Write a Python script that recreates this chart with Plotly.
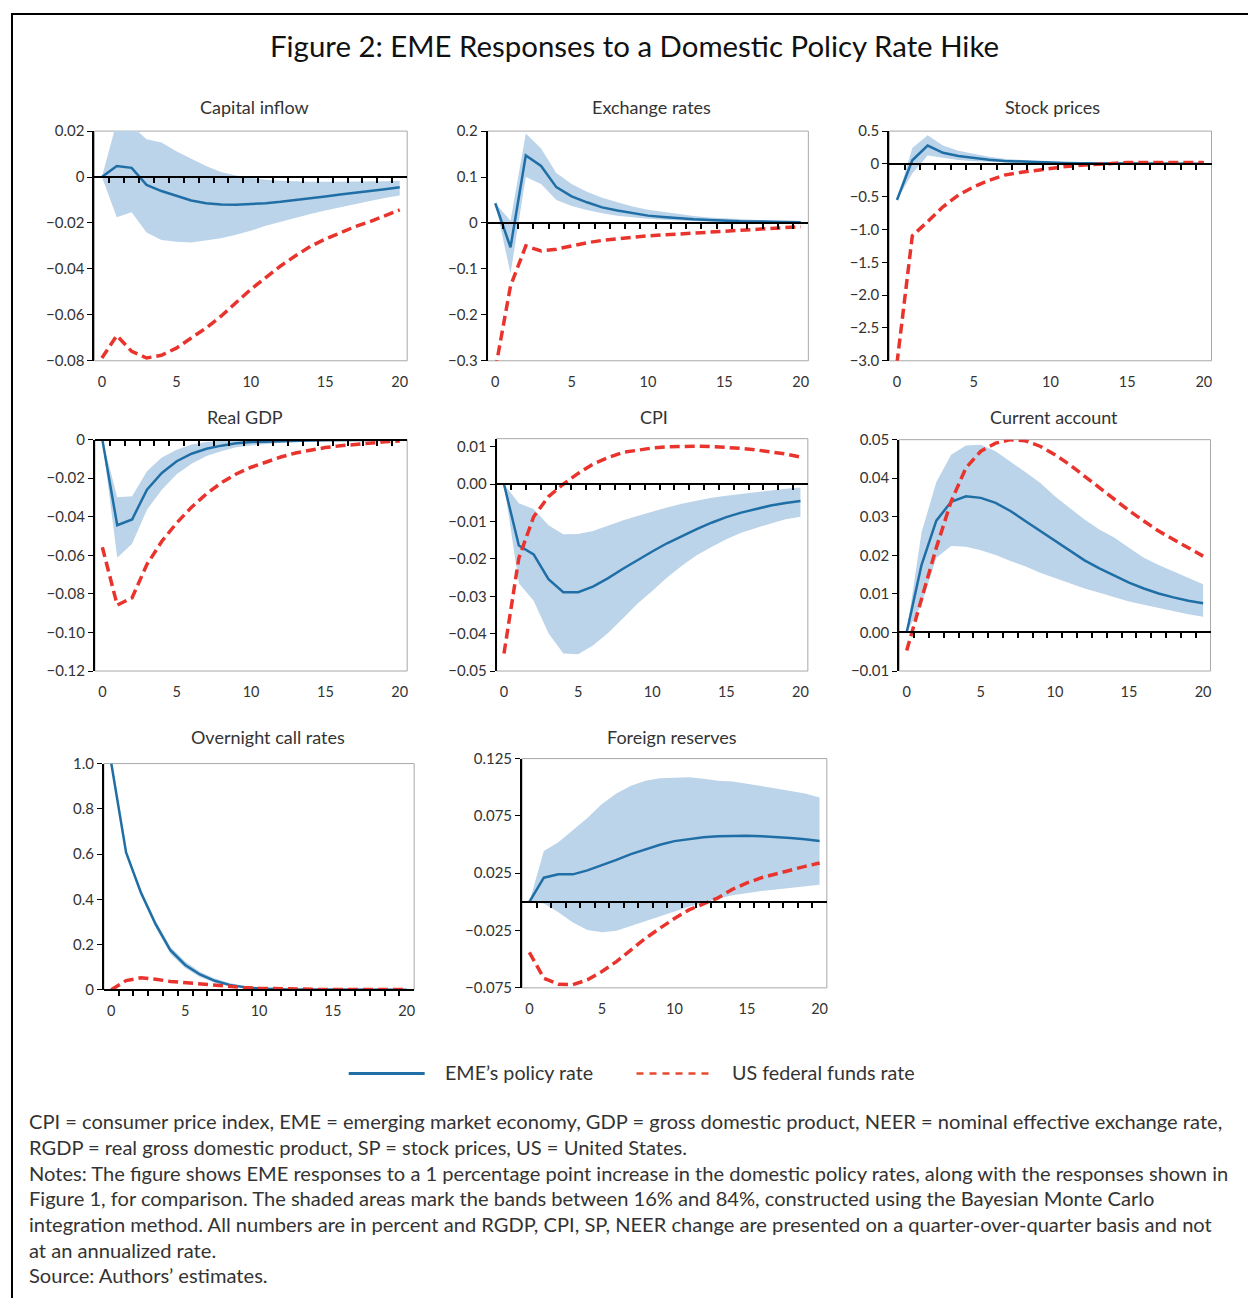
import plotly.graph_objects as go

W, H = 1248, 1298
t = list(range(21))

# ---------------- data ----------------
ci_eme = [0, 0.0048, 0.0040, -0.0034, -0.0061, -0.0083, -0.0102, -0.0114, -0.0120, -0.0121, -0.0118,
          -0.0114, -0.0108, -0.0101, -0.0093, -0.0085, -0.0076, -0.0069, -0.0061, -0.0053, -0.0044]
ci_hi = [0, 0.024, 0.0223, 0.0165, 0.0150, 0.0112, 0.0080, 0.0048, 0.0022, 0.0007, -0.0004,
         -0.0012, -0.0016, -0.0019, -0.0020, -0.0021, -0.0021, -0.0020, -0.0019, -0.0018, -0.0016]
ci_lo = [0, -0.0175, -0.0153, -0.0241, -0.0274, -0.0282, -0.0285, -0.0277, -0.0266, -0.0251, -0.0234,
         -0.0212, -0.0194, -0.0177, -0.0161, -0.0146, -0.0131, -0.0117, -0.0104, -0.0091, -0.0080]
ci_us = [-0.0788, -0.0690, -0.0759, -0.0788, -0.0776, -0.0745, -0.0701, -0.0657, -0.0606, -0.0545, -0.0489,
         -0.0438, -0.0387, -0.0343, -0.0302, -0.0270, -0.0241, -0.0216, -0.0194, -0.0168, -0.0143]

er_eme = [0.043, -0.053, 0.147, 0.124, 0.078, 0.058, 0.045, 0.034, 0.027, 0.021, 0.016,
          0.013, 0.010, 0.008, 0.0066, 0.005, 0.004, 0.0035, 0.003, 0.002, 0.0015]
er_hi = [0.043, 0.005, 0.195, 0.162, 0.109, 0.085, 0.068, 0.055, 0.045, 0.036, 0.029,
         0.024, 0.019, 0.015, 0.012, 0.010, 0.008, 0.006, 0.005, 0.004, 0.003]
er_lo = [0.043, -0.110, 0.100, 0.085, 0.050, 0.037, 0.028, 0.021, 0.016, 0.012, 0.009,
         0.007, 0.005, 0.004, 0.003, 0.002, 0.0015, 0.001, 0.001, 0.0005, 0.0]
er_us = [-0.32, -0.137, -0.050, -0.061, -0.057, -0.050, -0.043, -0.038, -0.034, -0.031, -0.028,
         -0.026, -0.024, -0.022, -0.020, -0.018, -0.016, -0.014, -0.012, -0.010, -0.008]

sp_eme = [-0.55, 0.055, 0.28, 0.17, 0.12, 0.09, 0.065, 0.045, 0.035, 0.025, 0.02,
          0.015, 0.012, 0.01, 0.008, 0.006, 0.005, 0.004, 0.003, 0.002, 0.001]
sp_hi = [-0.55, 0.243, 0.436, 0.28, 0.20, 0.15, 0.11, 0.08, 0.06, 0.045, 0.035,
         0.028, 0.022, 0.018, 0.015, 0.012, 0.010, 0.008, 0.007, 0.006, 0.005]
sp_lo = [-0.55, -0.147, 0.13, 0.09, 0.06, 0.04, 0.03, 0.02, 0.012, 0.008, 0.006,
         0.004, 0.003, 0.002, 0.001, 0.0, 0.0, 0.0, 0.0, 0.0, 0.0]
sp_us = [-3.04, -1.095, -0.88, -0.654, -0.476, -0.35, -0.25, -0.17, -0.13, -0.096, -0.07,
         -0.04, -0.02, -0.005, 0.01, 0.02, 0.02, 0.02, 0.02, 0.02, 0.02]

gdp_eme = [0, -0.0444, -0.0414, -0.0259, -0.0173, -0.0112, -0.0073, -0.0047, -0.0031, -0.0019, -0.0012,
           -0.0009, -0.0007, -0.0005, -0.0004, -0.0003, -0.0003, -0.0002, -0.0002, -0.0001, -0.0001]
gdp_hi = [0, -0.0299, -0.0293, -0.0164, -0.0092, -0.0052, -0.0025, -0.0012, -0.0006, -0.0003, -0.0002,
          -0.0001, -0.0001, 0, 0, 0, 0, 0, 0, 0, 0]
gdp_lo = [0, -0.0613, -0.0540, -0.0363, -0.0260, -0.0180, -0.0125, -0.0085, -0.0060, -0.0040, -0.0030,
          -0.0022, -0.0016, -0.0012, -0.0009, -0.0007, -0.0006, -0.0005, -0.0004, -0.0004, -0.0003]
gdp_us = [-0.0558, -0.0858, -0.0820, -0.0647, -0.0527, -0.0432, -0.0350, -0.0281, -0.0224, -0.0178, -0.0143,
          -0.0116, -0.0090, -0.0069, -0.0055, -0.0041, -0.0032, -0.0024, -0.0017, -0.0011, -0.0007]

cpi_eme = [0, -0.0164, -0.0188, -0.0254, -0.0289, -0.0289, -0.0274, -0.0252, -0.0227, -0.0203, -0.0180,
           -0.0158, -0.0138, -0.0120, -0.0103, -0.0088, -0.0076, -0.0066, -0.0057, -0.0050, -0.0045]
cpi_hi = [0, -0.0051, -0.0066, -0.0110, -0.0134, -0.0133, -0.0125, -0.0110, -0.0097, -0.0085, -0.0073,
          -0.0062, -0.0052, -0.0043, -0.0036, -0.0031, -0.0026, -0.0021, -0.0016, -0.0012, -0.0009]
cpi_lo = [0, -0.0265, -0.0312, -0.0399, -0.0453, -0.0455, -0.0432, -0.0399, -0.0360, -0.0320, -0.0286,
          -0.0250, -0.0218, -0.0190, -0.0168, -0.0147, -0.0130, -0.0117, -0.0105, -0.0094, -0.0087]
cpi_us = [-0.0453, -0.0198, -0.0087, -0.0033, 0.0, 0.0029, 0.0054, 0.0071, 0.0085, 0.0092, 0.0097,
          0.0100, 0.0102, 0.0102, 0.0101, 0.0099, 0.0096, 0.0092, 0.0087, 0.0081, 0.0073]

ca_eme = [0, 0.0175, 0.0290, 0.0339, 0.0353, 0.0349, 0.0336, 0.0315, 0.0289, 0.0263, 0.0237,
          0.0211, 0.0187, 0.0166, 0.0147, 0.0129, 0.0114, 0.0101, 0.0091, 0.0082, 0.0076]
ca_hi = [0, 0.0259, 0.0390, 0.0461, 0.0485, 0.0487, 0.0470, 0.0444, 0.0416, 0.0388, 0.0353,
         0.0323, 0.0293, 0.0267, 0.0246, 0.0220, 0.0194, 0.0175, 0.0158, 0.0141, 0.0125]
ca_lo = [0, 0.0073, 0.0194, 0.0224, 0.0222, 0.0213, 0.0201, 0.0185, 0.0172, 0.0155, 0.0141,
         0.0127, 0.0114, 0.0103, 0.0091, 0.0080, 0.0072, 0.0063, 0.0056, 0.0047, 0.0041]
ca_us = [-0.0047, 0.0090, 0.0220, 0.0340, 0.0427, 0.0470, 0.0491, 0.0500, 0.0497, 0.0483, 0.0461,
         0.0435, 0.0405, 0.0375, 0.0345, 0.0316, 0.0289, 0.0263, 0.0241, 0.0220, 0.0198]

ocr_eme = [1.0, 0.607, 0.43, 0.29, 0.175, 0.11, 0.068, 0.04, 0.022, 0.012, 0.006,
           0.003, 0.0015, 0.001, 0.0005, 0, 0, 0, 0, 0, 0]
ocr_hi = [1.0, 0.615, 0.445, 0.305, 0.19, 0.125, 0.08, 0.05, 0.03, 0.017, 0.009,
          0.005, 0.003, 0.002, 0.001, 0.001, 0.001, 0.001, 0.001, 0.001, 0.001]
ocr_lo = [1.0, 0.600, 0.420, 0.275, 0.160, 0.097, 0.057, 0.031, 0.015, 0.007, 0.003,
          0.001, 0, 0, 0, 0, 0, 0, 0, 0, 0]
ocr_us = [0, 0.041, 0.053, 0.047, 0.037, 0.031, 0.026, 0.019, 0.013, 0.010, 0.007,
          0.005, 0.004, 0.003, 0.002, 0.002, 0.001, 0.001, 0.001, 0.001, 0.001]

fr_eme = [0, 0.0211, 0.0240, 0.0240, 0.0275, 0.0318, 0.0367, 0.0417, 0.0460, 0.0498, 0.0530,
          0.0550, 0.0564, 0.0573, 0.0576, 0.0576, 0.0573, 0.0567, 0.0558, 0.0547, 0.0532]
fr_hi = [0, 0.0443, 0.0520, 0.0622, 0.0732, 0.0854, 0.0946, 0.1013, 0.1056, 0.1079, 0.1085,
         0.1088, 0.1075, 0.1056, 0.1050, 0.1033, 0.1010, 0.0990, 0.0970, 0.0946, 0.0911]
fr_lo = [0, -0.0014, -0.0090, -0.0180, -0.0246, -0.0266, -0.0252, -0.0211, -0.0165, -0.0130, -0.0087,
         -0.0043, -0.0009, 0.0029, 0.0058, 0.0078, 0.0095, 0.0107, 0.0122, 0.0136, 0.0150]
fr_us = [-0.0440, -0.0666, -0.0718, -0.0723, -0.0680, -0.0608, -0.0521, -0.0420, -0.0318, -0.0230, -0.0145,
         -0.0070, -0.0020, 0.0035, 0.0110, 0.0165, 0.0211, 0.0246, 0.0281, 0.0310, 0.0339]

x_tick_vals = [0, 5, 10, 15, 20]
x_tick_text = ["0", "5", "10", "15", "20"]

panel_titles = ["Capital inflow", "Exchange rates", "Stock prices", "Real GDP", "CPI",
                "Current account", "Overnight call rates", "Foreign reserves"]

y_ticks = [
    ([0.02, 0, -0.02, -0.04, -0.06, -0.08], ["0.02", "0", "−0.02", "−0.04", "−0.06", "−0.08"]),
    ([0.2, 0.1, 0, -0.1, -0.2, -0.3], ["0.2", "0.1", "0", "−0.1", "−0.2", "−0.3"]),
    ([0.5, 0, -0.5, -1.0, -1.5, -2.0, -2.5, -3.0], ["0.5", "0", "−0.5", "−1.0", "−1.5", "−2.0", "−2.5", "−3.0"]),
    ([0, -0.02, -0.04, -0.06, -0.08, -0.10, -0.12], ["0", "−0.02", "−0.04", "−0.06", "−0.08", "−0.10", "−0.12"]),
    ([0.01, 0, -0.01, -0.02, -0.03, -0.04, -0.05], ["0.01", "0.00", "−0.01", "−0.02", "−0.03", "−0.04", "−0.05"]),
    ([0.05, 0.04, 0.03, 0.02, 0.01, 0, -0.01], ["0.05", "0.04", "0.03", "0.02", "0.01", "0.00", "−0.01"]),
    ([1.0, 0.8, 0.6, 0.4, 0.2, 0], ["1.0", "0.8", "0.6", "0.4", "0.2", "0"]),
    ([0.125, 0.075, 0.025, -0.025, -0.075], ["0.125", "0.075", "0.025", "−0.025", "−0.075"]),
]

series = [
    (ci_eme, ci_hi, ci_lo, ci_us),
    (er_eme, er_hi, er_lo, er_us),
    (sp_eme, sp_hi, sp_lo, sp_us),
    (gdp_eme, gdp_hi, gdp_lo, gdp_us),
    (cpi_eme, cpi_hi, cpi_lo, cpi_us),
    (ca_eme, ca_hi, ca_lo, ca_us),
    (ocr_eme, ocr_hi, ocr_lo, ocr_us),
    (fr_eme, fr_hi, fr_lo, fr_us),
]

y_ranges = [[-0.08, 0.02], [-0.3, 0.2], [-3.0, 0.5], [-0.12, 0.0], [-0.05, 0.0122],
            [-0.01, 0.05], [0.0, 1.0], [-0.075, 0.125]]

# ---------------- layout geometry (target pixels in the photographed page) ----------------
boxes = [  # left, right, top, bottom of plot areas
    (94.5, 407.5, 129.3, 359.3),
    (488.0, 809.0, 129.3, 359.3),
    (890.0, 1212.5, 129.3, 359.3),
    (95.0, 407.5, 438.3, 670.0),
    (497.0, 808.5, 437.3, 670.0),
    (900.0, 1211.5, 438.3, 670.0),
    (104.0, 414.5, 762.7, 989.3),
    (522.5, 827.5, 757.7, 987.3),
]
title_pos = [(255, 105), (652, 105), (1053, 105), (245, 416), (655, 416), (1055, 416),
             (268, 736), (673, 736)]

BLUE = "#1f6fa6"
BAND = "#bcd4ea"
RED = "#e9342d"
TXT = "#333333"
FONT = "Lato"

# the photographed page is offset/compressed vertically; map target pixels to figure pixels
Y_OFF, Y_SCALE = 8.0, 0.9876


def fx(px):
    return px / W


def fy(py):
    return 1 - ((py - Y_OFF) / Y_SCALE) / H


fig = go.Figure()
layout = {}
shapes = []
annotations = []

for i in range(8):
    n = i + 1
    xa = "x" if n == 1 else f"x{n}"
    ya = "y" if n == 1 else f"y{n}"
    za = f"x{n + 8}"
    eme, hi, lo, us = series[i]
    fig.add_trace(go.Scatter(x=t, y=hi, mode="lines", line=dict(width=0, color=BAND),
                             xaxis=xa, yaxis=ya, showlegend=False, hoverinfo="skip"))
    fig.add_trace(go.Scatter(x=t, y=lo, mode="lines", line=dict(width=0, color=BAND),
                             fill="tonexty", fillcolor=BAND,
                             xaxis=xa, yaxis=ya, showlegend=False, hoverinfo="skip"))
    fig.add_trace(go.Scatter(x=t, y=eme, mode="lines", line=dict(width=2.5, color=BLUE),
                             name="EME’s policy rate", xaxis=xa, yaxis=ya, showlegend=False))
    fig.add_trace(go.Scatter(x=t, y=us, mode="lines",
                             line=dict(width=3.5, color=RED, dash="10px,5px"),
                             name="US federal funds rate", xaxis=xa, yaxis=ya, showlegend=False))
    fig.add_trace(go.Scatter(x=[None], y=[None], mode="lines", xaxis=za, yaxis=ya,
                             showlegend=False, hoverinfo="skip"))

    l, r, tp, bt = boxes[i]
    dom_x = [fx(l), fx(r)]
    dom_y = [fy(bt), fy(tp)]
    ymin, ymax = y_ranges[i]
    zpos = dom_y[0] + (0 - ymin) / (ymax - ymin) * (dom_y[1] - dom_y[0])
    tv, tt = y_ticks[i]
    kx = "xaxis" if n == 1 else f"xaxis{n}"
    ky = "yaxis" if n == 1 else f"yaxis{n}"
    layout[kx] = dict(domain=dom_x, anchor=ya, range=[-0.5, 20.5],
                      tickvals=x_tick_vals, ticktext=x_tick_text,
                      ticks="outside", ticklen=8, tickcolor="rgba(0,0,0,0)",
                      showline=False, showgrid=False, zeroline=False,
                      tickfont=dict(family=FONT, size=14.5, color=TXT))
    layout[ky] = dict(domain=dom_y, anchor=xa, range=[ymin, ymax],
                      tickvals=tv, ticktext=tt, ticks="outside", ticklen=5,
                      tickwidth=1, tickcolor="#000000",
                      showline=True, linecolor="#000000", linewidth=2,
                      showgrid=False, zeroline=False,
                      tickfont=dict(family=FONT, size=15, color=TXT))
    layout[f"xaxis{n + 8}"] = dict(overlaying=xa, anchor="free", position=zpos,
                                   range=[-0.5, 20.5],
                                   tickvals=[k + 0.5 for k in range(20)],
                                   ticks="outside", ticklen=5, tickwidth=1.5,
                                   tickcolor="#000000", showticklabels=False,
                                   showline=True, linecolor="#000000", linewidth=2,
                                   showgrid=False, zeroline=False, layer="above traces")
    shapes.append(dict(type="rect", xref=f"{xa} domain", yref=f"{ya} domain",
                       x0=0, x1=1, y0=0, y1=1, layer="below",
                       line=dict(color="#a8a8a8", width=1)))
    tx, ty = title_pos[i]
    annotations.append(dict(text=panel_titles[i], x=fx(tx), y=fy(ty), xref="paper", yref="paper",
                            xanchor="center", yanchor="middle", showarrow=False,
                            font=dict(family=FONT, size=18, color=TXT)))

# outer border
shapes.append(dict(type="rect", xref="paper", yref="paper", x0=fx(12), x1=fx(1262),
                   y0=fy(1330), y1=fy(12), line=dict(color="#000000", width=2), layer="above"))

# main title
annotations.append(dict(text="Figure 2: EME Responses to a Domestic Policy Rate Hike",
                        x=fx(635), y=fy(44), xref="paper", yref="paper", xanchor="center",
                        yanchor="middle", showarrow=False,
                        font=dict(family=FONT, size=29.4, color="#111111")))

# legend
shapes.append(dict(type="line", xref="paper", yref="paper", x0=fx(349), x1=fx(425),
                   y0=fy(1073), y1=fy(1073), line=dict(color=BLUE, width=3)))
shapes.append(dict(type="line", xref="paper", yref="paper", x0=fx(637), x1=fx(713),
                   y0=fy(1073), y1=fy(1073), line=dict(color="#e84a30", width=2.5, dash="7px,6px")))
annotations.append(dict(text="EME’s policy rate", x=fx(443), y=fy(1072), xref="paper", yref="paper",
                        xanchor="left", yanchor="middle", showarrow=False,
                        font=dict(family=FONT, size=19.7, color=TXT)))
annotations.append(dict(text="US federal funds rate", x=fx(731), y=fy(1072), xref="paper", yref="paper",
                        xanchor="left", yanchor="middle", showarrow=False,
                        font=dict(family=FONT, size=19.7, color=TXT)))

notes = [
    "CPI = consumer price index, EME = emerging market economy, GDP = gross domestic product, NEER = nominal effective exchange rate,",
    "RGDP = real gross domestic product, SP = stock prices, US = United States.",
    "Notes: The figure shows EME responses to a 1 percentage point increase in the domestic policy rates, along with the responses shown in",
    "Figure 1, for comparison. The shaded areas mark the bands between 16% and 84%, constructed using the Bayesian Monte Carlo",
    "integration method. All numbers are in percent and RGDP, CPI, SP, NEER change are presented on a quarter-over-quarter basis and not",
    "at an annualized rate.",
    "Source: Authors’ estimates.",
]
for k, line in enumerate(notes):
    annotations.append(dict(text=line, x=fx(27), y=fy(1121 + 25.67 * k), xref="paper", yref="paper",
                            xanchor="left", yanchor="middle", showarrow=False,
                            font=dict(family=FONT, size=20.1, color=TXT)))

fig.update_layout(**layout)
fig.update_layout(width=W, height=H, margin=dict(l=0, r=0, t=0, b=0),
                  paper_bgcolor="white", plot_bgcolor="white",
                  showlegend=False, shapes=shapes, annotations=annotations,
                  font=dict(family=FONT, color=TXT))

fig.write_html("out.html")
